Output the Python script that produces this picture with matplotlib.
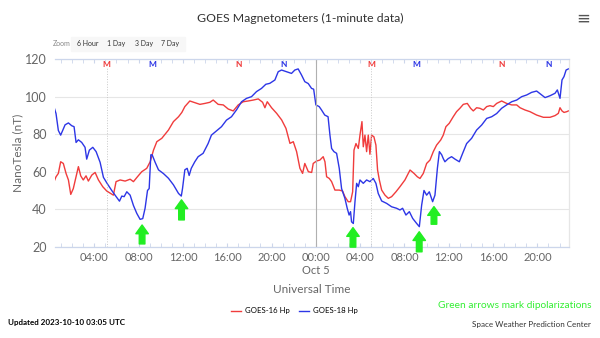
import numpy as np
import matplotlib.pyplot as plt

plt.rcParams["font.family"] = ["Lato", "DejaVu Sans"]

# hours since 2023-10-04 00:00 UT
g18_t = [0.30, 0.54, 0.75, 0.96, 1.14, 1.36, 1.66, 1.96, 2.17, 2.35, 2.56, 2.86, 3.16, 3.31, 3.55,
         3.86, 4.16, 4.52, 4.82, 5.18, 5.57, 5.87, 6.27, 6.48, 6.69, 6.93, 7.23, 7.53, 7.83, 8.13,
         8.37, 8.58, 8.80, 8.95, 9.10, 9.22, 9.49, 9.79, 10.24, 10.69, 11.14, 11.60, 11.85,
         11.96, 12.17, 12.38, 12.56, 12.75, 13.07, 13.37, 13.82, 14.27, 14.57, 15.02, 15.48, 15.93,
         16.38, 16.84, 17.29, 17.74, 18.19, 18.64, 19.09, 19.48, 19.84, 20.30, 20.60, 20.90, 21.35,
         21.80, 22.10, 22.40, 22.70, 23.00, 23.31, 23.61, 23.80, 24.00, 24.30, 24.50, 24.80,
         25.10, 25.27, 25.42, 25.63, 25.87, 26.11, 26.32, 26.62, 26.83, 27.00, 27.13, 27.22, 27.38,
         27.53, 27.68, 27.83, 27.98, 28.28, 28.58, 28.88, 29.18, 29.42, 29.63, 29.94, 30.39, 30.84,
         31.29, 31.59, 31.83, 32.13, 32.44, 32.74, 33.10, 33.34, 33.55, 33.76, 34.00, 34.24, 34.54,
         34.75, 34.97, 35.15, 35.36, 35.50, 35.65, 35.95, 36.25, 36.56, 36.95, 37.25, 37.61, 38.06,
         38.51, 38.97, 39.42, 39.87, 40.32, 40.77, 41.22, 41.68, 42.13, 42.58, 43.03, 43.48, 43.93,
         44.39, 44.69, 45.14, 45.59, 45.80, 46.04, 46.22, 46.40, 46.59, 46.80]
g18_nt = [95.6, 91.0, 82.0, 79.5, 82.0, 85.0, 86.0, 84.5, 84.0, 75.6, 77.0, 75.6, 73.0, 66.7, 71.5,
          73.0, 70.7, 65.0, 57.0, 53.5, 50.0, 47.5, 44.3, 47.0, 46.7, 49.3, 47.5, 42.0, 37.8, 34.6,
          35.0, 40.5, 50.0, 51.0, 69.0, 69.0, 65.0, 61.0, 59.0, 56.5, 53.0, 48.4, 47.0,
          51.0, 61.0, 61.8, 58.0, 61.8, 65.3, 68.0, 69.8, 75.0, 79.5, 81.7, 84.0, 87.5,
          89.3, 93.0, 97.3, 99.1, 100.0, 102.7, 104.4, 106.6, 107.1, 108.9, 113.3, 114.2, 113.3,
          112.4, 114.2, 114.8, 111.6, 108.0, 107.0, 104.4, 104.0, 95.6, 94.7, 93.0, 90.2,
          89.3, 79.5, 72.4, 70.7, 69.8, 61.8, 51.0, 45.8, 40.5, 36.9, 38.7, 33.3, 32.4,
          44.0, 53.8, 52.0, 55.6, 53.8, 55.6, 54.7, 56.4, 53.8, 48.4, 44.4, 43.1, 41.3,
          40.5, 39.6, 40.5, 36.9, 38.7, 35.1, 32.4, 30.7, 42.2, 50.0, 47.5, 49.3, 44.0,
          47.5, 61.8, 70.7, 69.0, 67.0, 65.3, 67.0, 68.0, 66.7, 65.3, 69.8, 75.0, 77.8,
          82.2, 84.9, 88.4, 89.3, 91.0, 93.8, 95.6, 97.3, 98.2, 100.0, 100.9, 102.3, 103.0,
          100.9, 99.5, 100.5, 101.8, 103.6, 99.1, 108.9, 110.7, 114.2, 114.8]

g16_t = [0.30, 0.54, 0.75, 0.96, 1.20, 1.45, 1.66, 1.87, 2.10, 2.35, 2.56, 2.77, 3.00, 3.25, 3.46,
         3.77, 4.07, 4.37, 4.76, 5.12, 5.48, 5.72, 5.96, 6.33, 6.78, 7.23, 7.53, 7.89, 8.28, 8.73,
         9.04, 9.34, 9.64, 10.09, 10.39, 10.69, 11.14, 11.60, 11.90, 12.17, 12.62, 13.08, 13.53,
         13.98, 14.43, 14.73, 15.18, 15.64, 16.09, 16.54, 16.99, 17.44, 17.89, 18.35, 18.80, 19.19,
         19.40, 19.61, 20.00, 20.46, 20.91, 21.30, 21.66, 21.96, 22.26, 22.56, 22.80, 23.00, 23.32,
         23.62, 23.76, 24.06, 24.36, 24.66, 24.82, 24.97, 25.21, 25.42, 25.72, 26.11, 26.41,
         26.62, 26.92, 27.13, 27.32, 27.44, 27.62, 27.83, 27.98, 28.16, 28.28, 28.43, 28.58, 28.73,
         28.88, 29.03, 29.24, 29.42, 29.57, 29.73, 29.94, 30.24, 30.54, 30.84, 31.23, 31.59, 32.04,
         32.50, 32.86, 33.16, 33.40, 33.70, 34.00, 34.30, 34.60, 34.90, 35.27, 35.50, 35.74, 36.04,
         36.40, 36.70, 37.00, 37.31, 37.67, 37.97, 38.21, 38.51, 38.81, 39.12, 39.42, 39.72, 40.02,
         40.32, 40.77, 41.22, 41.68, 42.13, 42.43, 42.88, 43.33, 43.93, 44.54, 45.14, 45.59, 45.89,
         46.04, 46.22, 46.40, 46.65, 46.80]
g16_nt = [53.8, 57.3, 59.1, 65.3, 64.4, 59.0, 55.6, 47.9, 51.0, 57.3, 62.7, 57.8, 55.6, 57.8, 55.0,
          58.2, 59.6, 55.6, 52.0, 49.7, 48.4, 47.5, 54.7, 55.6, 55.0, 56.0, 54.7, 57.3, 60.0, 61.8,
          65.3, 71.5, 76.0, 77.8, 80.0, 82.2, 86.7, 89.3, 91.6, 94.7, 97.7, 96.8, 95.9,
          96.4, 97.0, 98.2, 95.9, 95.6, 93.4, 92.4, 95.6, 97.3, 97.7, 98.2, 98.8, 97.0,
          94.1, 97.3, 94.1, 91.1, 87.6, 83.1, 75.1, 76.0, 70.7, 61.8, 59.1, 64.4, 60.0,
          59.6, 64.4, 65.7, 66.2, 68.0, 65.3, 57.3, 56.4, 54.7, 50.2, 50.2, 49.7,
          46.7, 44.0, 44.0, 49.3, 71.5, 75.0, 72.4, 79.5, 86.7, 73.3, 79.5, 70.7, 79.5,
          69.3, 79.5, 78.6, 74.2, 60.9, 55.6, 50.2, 47.5, 45.8, 46.7, 49.3, 52.0, 55.6,
          60.9, 59.1, 57.3, 56.4, 59.1, 64.4, 66.2, 70.7, 74.2, 76.9, 79.5, 84.0, 85.8,
          89.3, 92.0, 93.8, 95.9, 96.4, 93.8, 92.4, 94.1, 93.8, 92.9, 94.7, 95.2, 94.7,
          96.4, 97.7, 96.4, 95.6, 95.6, 94.1, 92.9, 92.0, 90.2, 89.0, 89.0, 89.9, 91.1,
          94.1, 92.4, 91.6, 92.0, 92.4]

# magnetopause (M) / noon (N) crossings
mark_t = [5.1, 9.2, 17.0, 21.1, 29.0, 33.1, 40.8, 45.0]
mark_lbl = ["M", "M", "N", "N", "M", "M", "N", "N"]
mark_sat = ["g16", "g18", "g16", "g18", "g16", "g18", "g16", "g18"]

# dipolarization arrows
arrow_t = [8.31, 11.87, 27.35, 33.33, 34.66]
arrow_tip = [31.6, 45.0, 30.2, 28.0, 41.4]
arrow_base = [21.5, 34.3, 19.8, 17.3, 32.0]

tick_hours = [4, 8, 12, 16, 20, 24, 28, 32, 36, 40, 44]
tick_labels = ["04:00", "08:00", "12:00", "16:00", "20:00", "00:00\nOct 5",
               "04:00", "08:00", "12:00", "16:00", "20:00"]

RED = "#f03c3c"
BLUE = "#2d36e6"
GRID = "#e6e6e6"
AXC = "#ccd6eb"
TXT = "#666666"
GREEN = "#22ee22"

fig = plt.figure(figsize=(6, 3.38), dpi=100)
ax = fig.add_axes([0.0917, 0.27, 0.8566, 0.555])

ax.plot(g16_t, g16_nt, color=RED, lw=1.0, label="GOES-16 Hp")
ax.plot(g18_t, g18_nt, color=BLUE, lw=1.0, label="GOES-18 Hp")

ax.set_xlim(0.45, 46.85)
ax.set_ylim(20, 120)
ax.set_yticks([20, 40, 60, 80, 100, 120])
ax.set_xticks(tick_hours)
ax.set_xticklabels(tick_labels, linespacing=1.15)
ax.set_xticks(np.arange(1, 47), minor=True)
ax.grid(axis="y", color=GRID, lw=0.8)
ax.tick_params(axis="y", length=0, labelsize=9, labelcolor=TXT, pad=6)
ax.tick_params(axis="x", which="both", direction="in", length=3, color=AXC,
               labelsize=8, labelcolor=TXT, top=True, pad=4)

ax.spines["left"].set_visible(False)
for s in ["bottom", "top", "right"]:
    ax.spines[s].set_color(AXC)
    ax.spines[s].set_linewidth(0.9)
ax.spines["right"].set_color("#e6e6e6")

ax.axvline(24, color="#b0b0b0", lw=0.8)
for t, lbl, sat in zip(mark_t, mark_lbl, mark_sat):
    c = RED if sat == "g16" else BLUE
    ax.text(t, 117.3, lbl, color=c, fontsize=6, fontweight="bold", ha="center", va="center")
    if lbl == "M" and sat == "g16":
        ax.axvline(t, color="#c8c8c8", lw=0.7, ls=":", ymax=0.96)

for t, tip, base in zip(arrow_t, arrow_tip, arrow_base):
    ax.annotate("", xy=(t, tip), xytext=(t, base), annotation_clip=False,
                arrowprops=dict(arrowstyle="simple,head_length=0.7,head_width=1.0,tail_width=0.45",
                                color=GREEN, mutation_scale=9, shrinkA=0, shrinkB=0))

ax.set_ylabel("NanoTesla (nT)", color=TXT, fontsize=8.5, labelpad=1)
ax.set_xlabel("Universal Time", color=TXT, fontsize=8.5, labelpad=6)

fig.text(0.5, 0.945, "GOES Magnetometers (1-minute data)", ha="center", va="center",
         fontsize=8.8, color="#333333")
fig.text(0.972, 0.945, "≡", ha="center", va="center", fontsize=12, color="#555555",
         family="DejaVu Sans")

# zoom buttons
fig.patches.append(plt.Rectangle((0.118, 0.85), 0.19, 0.042, transform=fig.transFigure,
                                 color="#f7f7f7", zorder=0))
fig.text(0.088, 0.871, "Zoom", fontsize=5, color="#888888", va="center")
for xx, s in zip([0.128, 0.178, 0.225, 0.268], ["6 Hour", "1 Day", "3 Day", "7 Day"]):
    fig.text(xx, 0.871, s, fontsize=5, color="#333333", va="center")

fig.legend(loc="center", bbox_to_anchor=(0.49, 1 - 311 / 338), ncol=2, frameon=False,
           fontsize=5.6, handlelength=1.3, columnspacing=1.2, handletextpad=0.5)

fig.text(0.013, 1 - 322 / 338, "Updated 2023-10-10 03:05 UTC", fontsize=5.8, fontweight="bold",
         va="center")
fig.text(0.985, 1 - 306 / 338, "Green arrows mark dipolarizations", fontsize=7.3, color="#33ee33",
         ha="right", va="center")
fig.text(0.985, 1 - 325 / 338, "Space Weather Prediction Center", fontsize=5.8, color="#333333",
         ha="right", va="center")

fig.savefig("out.png", dpi=100)
